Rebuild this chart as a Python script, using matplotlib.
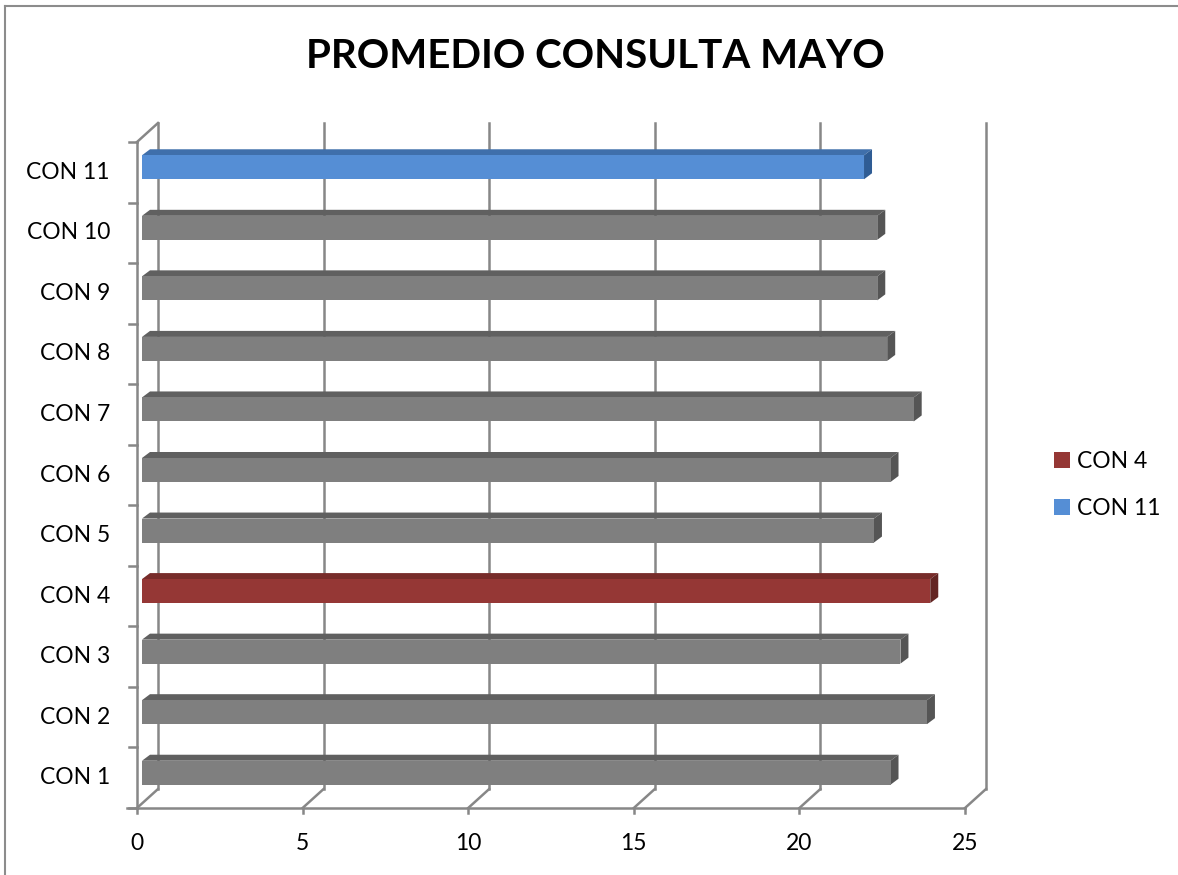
import matplotlib
matplotlib.use("Agg")
import matplotlib.pyplot as plt
from matplotlib.patches import Polygon, Rectangle, Patch
from matplotlib.lines import Line2D

categories = ["CON 1", "CON 2", "CON 3", "CON 4", "CON 5", "CON 6",
              "CON 7", "CON 8", "CON 9", "CON 10", "CON 11"]
values = [22.6, 23.7, 22.9, 23.8, 22.1, 22.6, 23.3, 22.5, 22.2, 22.2, 21.8]
x_ticks = [0, 5, 10, 15, 20, 25]
title = "PROMEDIO CONSULTA MAYO"
highlight = {"CON 4": "red", "CON 11": "blue"}

palette = {
    "gray": ("#7f7f7f", "#606060", "#555555"),
    "red": ("#953735", "#772c2a", "#632523"),
    "blue": ("#558ed5", "#3f6fab", "#2f5c94"),
}

W, H = 1178, 875
fig = plt.figure(figsize=(W / 100, H / 100), dpi=100)
fig.patch.set_facecolor("white")

# front plane pixel geometry
x0_px, x1_px = 137, 965
ytop_px, ybot_px = 142, 808
ax = fig.add_axes([x0_px / W, (H - ybot_px) / H, (x1_px - x0_px) / W, (ybot_px - ytop_px) / H])
ax.set_xlim(0, 25)
ax.set_ylim(-0.5, len(categories) - 0.5)
ax.axis("off")

px_x = (x1_px - x0_px) / 25.0          # px per x unit
px_y = (ybot_px - ytop_px) / len(categories)  # px per category

def dx(p):
    return p / px_x

def dy(p):
    return p / px_y

grid_c = "#878787"
lw = 1.8
# back wall offset
bdx, bdy = dx(21), dy(19)
ylo, yhi = -0.5, len(categories) - 0.5

# back vertical gridlines and floor diagonals
for t in x_ticks:
    ax.add_line(Line2D([t + bdx, t + bdx], [ylo + bdy, yhi + bdy], color=grid_c, lw=lw, zorder=1, clip_on=False))
    ax.add_line(Line2D([t, t + bdx], [ylo, ylo + bdy], color=grid_c, lw=lw, zorder=1, clip_on=False))
    ax.add_line(Line2D([t, t], [ylo, ylo - dy(5)], color=grid_c, lw=lw, zorder=1, clip_on=False))
# left wall
ax.add_line(Line2D([0, 0], [ylo, yhi], color=grid_c, lw=lw, zorder=1, clip_on=False))
ax.add_line(Line2D([0, bdx], [yhi, yhi + bdy], color=grid_c, lw=lw, zorder=1, clip_on=False))
# front floor line
ax.add_line(Line2D([-dx(10), 25], [ylo, ylo], color=grid_c, lw=lw, zorder=1, clip_on=False))
# y ticks at boundaries
for i in range(len(categories) + 1):
    yy = ylo + i
    ax.add_line(Line2D([-dx(8), 0], [yy, yy], color=grid_c, lw=lw, zorder=1, clip_on=False))

# bars
bh = dy(24)
off_x, off_y = dx(5), dy(5)
ddx, ddy = dx(8), dy(6)
for i, (cat, v) in enumerate(zip(categories, values)):
    front, top, side = palette[highlight.get(cat, "gray")]
    yb = i - bh / 2 + off_y
    yt = i + bh / 2 + off_y
    xl = off_x
    xr = v + off_x
    ax.add_patch(Polygon([[xl, yt], [xr, yt], [xr + ddx, yt + ddy], [xl + ddx, yt + ddy]],
                         closed=True, facecolor=top, edgecolor="none", zorder=3, clip_on=False))
    ax.add_patch(Polygon([[xr, yb], [xr + ddx, yb + ddy], [xr + ddx, yt + ddy], [xr, yt]],
                         closed=True, facecolor=side, edgecolor="none", zorder=3, clip_on=False))
    ax.add_patch(Rectangle((xl, yb), v, bh, facecolor=front, edgecolor="none", zorder=4, clip_on=False))

font = "Lato"
fs = 16.5
# y labels
for i, cat in enumerate(categories):
    ax.text(-dx(27), i, cat, ha="right", va="center", fontsize=fs, family=font, color="black")
# x labels
for t in x_ticks:
    ax.text(t, ylo - dy(36), str(t), ha="center", va="center", fontsize=fs, family=font, color="black")

fig.text(595 / W, 1 - 57 / H, title, ha="center", va="center", fontsize=29,
         fontweight="bold", family=font, color="black")

# legend
handles = [Patch(facecolor=palette["red"][0], edgecolor="none", label="CON 4"),
           Patch(facecolor=palette["blue"][0], edgecolor="none", label="CON 11")]
fig.legend(handles=handles, loc="center left", bbox_to_anchor=(1033 / W, 1 - 485 / H),
           frameon=False, prop={"family": font, "size": fs},
           handlelength=0.7, handleheight=0.7, handletextpad=0.3, labelspacing=1.15)

# chart border (left and top visible)
fig.add_artist(Line2D([5 / W, 5 / W], [0, 1 - 6 / H], color="#8c8c8c", lw=1.5, transform=fig.transFigure))
fig.add_artist(Line2D([5 / W, 1], [1 - 6 / H, 1 - 6 / H], color="#8c8c8c", lw=1.5, transform=fig.transFigure))

fig.savefig("out.png", dpi=100, facecolor="white")
